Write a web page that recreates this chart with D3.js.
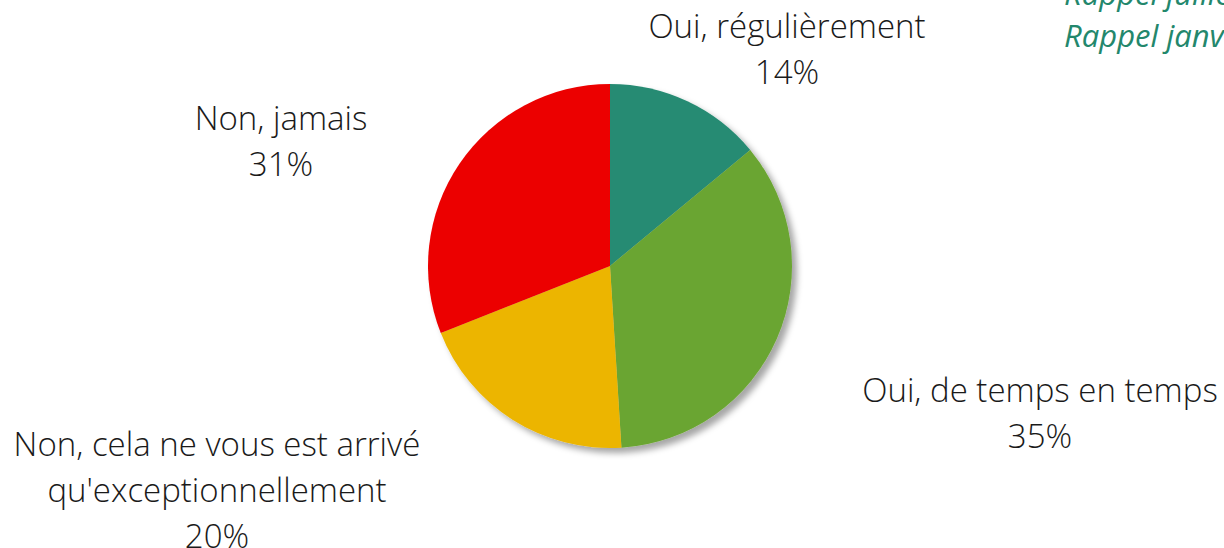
<!DOCTYPE html>
<html>
<head>
<meta charset="utf-8">
<script src="https://cdn.jsdelivr.net/npm/d3@7"></script>
<style>
  html, body { margin: 0; padding: 0; background: #fff; overflow: hidden; }
  svg { display: block; }
</style>
</head>
<body>
<div id="chart"></div>
<script>
// Données
const categories = ["Oui, régulièrement", "Oui, de temps en temps", "Non, cela ne vous est arrivé qu'exceptionnellement", "Non, jamais"];
const valeurs = [14, 35, 20, 31];
const couleurs = ["#278b73", "#6ba531", "#ecb500", "#ec0000"];
// lignes des étiquettes (texte découpé comme dans l'original)
const lignesEtiquettes = [
    ["Oui, régulièrement"],
    ["Oui, de temps en temps"],
    ["Non, cela ne vous est arrivé", "qu'exceptionnellement"],
    ["Non, jamais"]
];
const rappels = ["Rappel juillet", "Rappel janvier"];

const largeur = 1224, hauteur = 548;
const centre = { x: 610, y: 266 };
const rayon = 182;

const svg = d3.select("#chart").append("svg")
    .attr("width", largeur)
    .attr("height", hauteur);

// ombre portée
const defs = svg.append("defs");
const filtre = defs.append("filter").attr("id", "ombre")
    .attr("x", "-20%").attr("y", "-20%").attr("width", "140%").attr("height", "140%");
filtre.append("feDropShadow")
    .attr("dx", 5).attr("dy", 5).attr("stdDeviation", 3)
    .attr("flood-color", "#000").attr("flood-opacity", 0.35);

const donnees = categories.map((c, i) => ({ cat: c, valeur: valeurs[i], couleur: couleurs[i], lignes: lignesEtiquettes[i] }));

const pie = d3.pie().value(d => d.valeur).sort(null);
const arc = d3.arc().innerRadius(0).outerRadius(rayon);

const g = svg.append("g").attr("transform", `translate(${centre.x},${centre.y})`);

g.append("g").attr("filter", "url(#ombre)")
    .selectAll("path")
    .data(pie(donnees))
    .enter()
    .append("path")
    .attr("d", arc)
    .attr("fill", d => d.data.couleur);

// positions des étiquettes (centre du bloc, ligne de base de la première ligne)
const posEtiquettes = [
    { x: 787, y: 38 },
    { x: 1040, y: 402 },
    { x: 217, y: 456 },
    { x: 281, y: 130 }
];
const interligne = 46;

const etiquettes = svg.append("g")
    .style("font-family", "'Open Sans', sans-serif")
    .style("font-weight", 300)
    .style("font-size", "33px")
    .style("fill", "#1a1a1a")
    .attr("text-anchor", "middle");

donnees.forEach((d, i) => {
    const t = etiquettes.append("text")
        .attr("x", posEtiquettes[i].x)
        .attr("y", posEtiquettes[i].y);
    const lignes = d.lignes.concat([d.valeur + "%"]);
    lignes.forEach((l, j) => {
        t.append("tspan")
            .attr("x", posEtiquettes[i].x)
            .attr("dy", j === 0 ? 0 : interligne)
            .text(l);
    });
});

// texte en haut à droite (tronqué par le bord)
const rappel = svg.append("text")
    .attr("x", 1064)
    .attr("y", 5)
    .style("font-family", "'Open Sans', sans-serif")
    .style("font-style", "italic")
    .style("font-size", "31px")
    .style("fill", "#23876c");
rappels.forEach((r, j) => {
    rappel.append("tspan").attr("x", 1064).attr("dy", j === 0 ? 0 : 42).text(r);
});
</script>
</body>
</html>
